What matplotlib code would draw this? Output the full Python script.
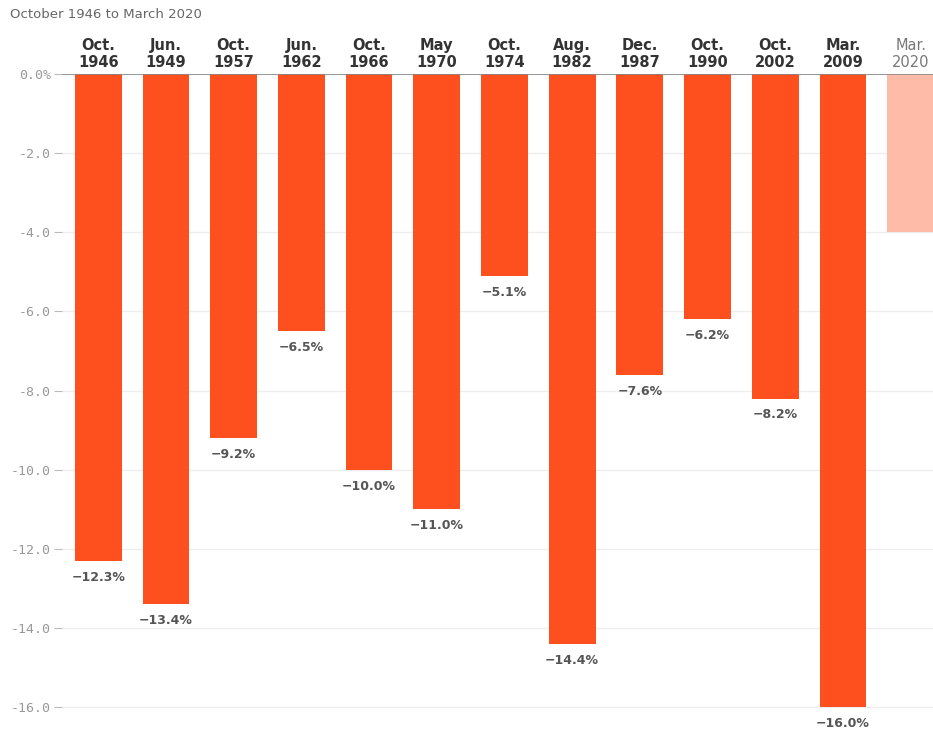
import matplotlib
matplotlib.use("Agg")
import matplotlib.pyplot as plt

# monthly drops, October 1946 to March 2020
labels = ["Oct.\n1946", "Jun.\n1949", "Oct.\n1957", "Jun.\n1962", "Oct.\n1966",
          "May\n1970", "Oct.\n1974", "Aug.\n1982", "Dec.\n1987", "Oct.\n1990",
          "Oct.\n2002", "Mar.\n2009", "Mar.\n2020"]
values = [-12.3, -13.4, -9.2, -6.5, -10.0, -11.0, -5.1, -14.4, -7.6, -6.2, -8.2, -16.0, -4.0]
yticks = [0, -2, -4, -6, -8, -10, -12, -14, -16]

W, H = 933, 731
fig = plt.figure(figsize=(W / 100, H / 100), dpi=100)
ax = fig.add_axes([62 / W, 0.0, 1 - 62 / W, (H - 74) / H])

xs = list(range(len(values)))
colors = ["#fe4f1f"] * (len(values) - 1) + ["#fdbba8"]
ax.bar(xs, values, width=0.69, color=colors, zorder=3)

ax.set_xlim(-0.535, 12.33)
ax.set_ylim(-16.6, 0)

for s in ax.spines.values():
    s.set_visible(False)
ax.axhline(0, color="#888888", lw=1.2, zorder=4)

ax.set_yticks(yticks)
ax.set_yticklabels(["0.0%"] + [f"-{abs(v):.1f}" for v in yticks[1:]],
                   family="DejaVu Sans Mono", fontsize=9.5, color="#999999")
ax.tick_params(axis="y", length=6, color="#bbbbbb", width=0.8, pad=2)
ax.set_xticks([])
ax.grid(axis="y", color="#eeeeee", lw=1, zorder=0)

for i, v in enumerate(values):
    if i < len(values) - 1:
        ax.text(i, v - 0.25, f"\u2212{abs(v):.1f}%", ha="center", va="top",
                fontsize=9, fontweight="bold", color="#555555")
    last = i == len(values) - 1
    ax.text(i, 0.1, labels[i], ha="center", va="bottom", fontsize=10.5,
            linespacing=1.15,
            fontweight="normal" if last else "bold",
            color="#777777" if last else "#333333",
            clip_on=False)

fig.text(10 / W, 1 - 15 / H, "October 1946 to March 2020", ha="left", va="center",
         fontsize=9.5, color="#666666")

fig.savefig("out.png", dpi=100)
